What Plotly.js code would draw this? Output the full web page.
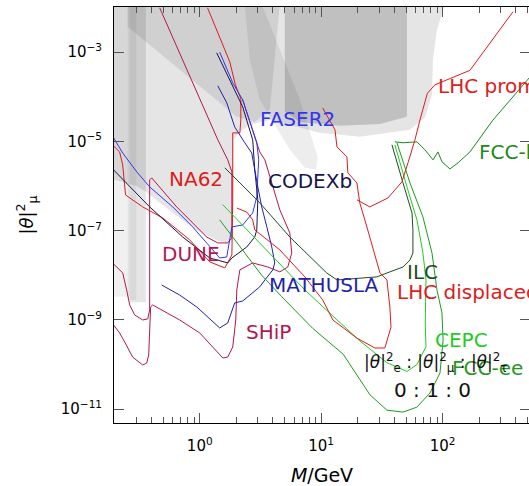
<!DOCTYPE html>
<html><head><meta charset="utf-8">
<script src="https://cdn.plot.ly/plotly-3.0.1.min.js"></script>
<style>html,body{margin:0;padding:0;overflow:hidden;background:#fff}</style>
</head><body><div id="plot"></div>
<script>
// ---------- excluded regions (grey) ----------
const greyLightM = [0.18,105,89.9,83.4,81.8,71.6,53.9,20.8,9.76,6.67,3.78,2.58,2.14,1.9,1.87,1.70,1.41,1.0,0.684,0.468,0.36,0.30,0.18];
const greyLightT = [0.012,0.012,3.16e-3,6.7e-4,1.1e-4,3.4e-5,1.81e-5,1.26e-5,1.55e-5,2.0e-5,3.0e-5,2.34e-5,1.63e-5,1.08e-5,6.85e-8,5.3e-8,5.9e-8,9.35e-8,1.93e-7,4.2e-7,7.4e-7,1.0e-6,1.5e-6];
const greyMidM = [0.255,0.255,2.02,2.84,3.78,4.57];
const greyMidT = [0.012,3.7e-3,3.54e-5,2.73e-5,5.1e-5,0.012];
const greyDarkM = [5.02,50.9,50.9,30.5,14.3,6.67,5.02];
const greyDarkT = [0.012,0.012,3.54e-5,2.46e-5,2.23e-5,2.73e-5,4.6e-5];
const greyDiagM = [2.35,3.24,6.67,9.4,9.04,7.34,5.52,4.15,3.12,2.58];
const greyDiagT = [0.012,0.012,8.5e-5,4.27e-6,2.3e-6,2.55e-6,6.45e-6,2.34e-5,8.5e-5,6.7e-4];
const bandAM = [0.18,0.265,0.265,0.18];
const bandAT = [0.012,0.012,3.3e-9,3.3e-9];
const bandBM = [0.265,0.36,0.36,0.265];
const bandBT = [0.012,0.012,2.5e-9,2.5e-9];
const bandCM = [0.255,0.30,0.30,0.255];
const bandCT = [0.012,0.012,2.8e-9,2.8e-9];

// ---------- sensitivity curves ----------
const na62M = [0.195,0.219,0.232,0.245,0.339,0.495,0.828,1.21,1.61,1.84,1.87,1.87,1.87,2.14,2.18,2.18,1.96,1.77,1.16];
const na62T = [7.9e-6,5.8e-6,2.97e-6,6.3e-7,3.4e-7,1.93e-7,6.2e-8,1.99e-8,1.46e-8,2.85e-8,4.9e-7,1.55e-5,1.55e-5,1.55e-5,3.0e-5,9.0e-5,1.9e-4,6.0e-4,9.8e-3];
const duneM = [0.195,0.232,0.25,0.265,0.291,0.339,0.373,0.387,0.387,0.402,0.646,1.14,1.41,1.70,1.84,1.84,1.70,1.41,0.468];
const duneT = [1.79e-8,1.13e-8,4.7e-9,2.16e-9,1.29e-9,9.95e-10,1.05e-9,1.67e-9,1.37e-6,1.52e-6,3.4e-7,7.2e-8,5.3e-8,5.3e-8,6.85e-8,2.07e-6,3.85e-6,1.08e-5,9.8e-3];
const shipM = [0.195,0.219,0.241,0.28,0.339,0.366,0.38,0.394,0.41,0.684,1.0,1.55,1.70,1.87,1.98,2.02,2.14,2.73,3.64,4.57,5.31,5.73,5.52,4.57,3.92,3.44,3.12,2.26];
const shipT = [7.7e-10,5.1e-10,3.2e-10,1.47e-10,9.75e-11,1.08e-10,1.63e-10,1.95e-9,2.16e-9,9.95e-10,5.1e-10,1.4e-10,1.47e-10,2.47e-10,9.95e-10,4.7e-9,1.32e-8,1.89e-8,1.53e-8,1.19e-8,1.53e-8,3.16e-8,8.9e-8,2.9e-7,1.17e-6,3.85e-6,5.8e-6,8.5e-5];
const faserM = [0.195,0.232,0.303,0.387,0.599,0.875,1.28,1.46,1.67,1.84,2.26,2.73,2.95,3.01,3.06,2.95,2.68,2.26,1.87,1.46];
const faserT = [1.2e-5,5.5e-6,2.07e-6,9.55e-7,3.4e-7,1.21e-7,3.7e-8,2.44e-8,2.57e-8,1.21e-7,1.34e-7,2.5e-7,5.7e-7,1.37e-6,3.85e-6,9.3e-6,2.11e-5,8.5e-5,2.05e-4,1.0e-3];
const codexM = [0.195,0.387,0.724,1.21,1.70,1.84,2.44,2.84,2.95,3.01,2.84,2.73,2.26,1.87,1.38];
const codexT = [2.3e-6,3.4e-7,7.2e-8,2.44e-8,1.89e-8,2.44e-8,4.3e-8,7.2e-8,1.04e-7,4.9e-7,2.3e-6,1.08e-5,5.9e-5,1.67e-4,9.6e-4];
const mathM = [0.486,0.684,0.945,1.46,1.70,1.94,2.26,3.12,3.44,4.0,4.15,3.92,3.57,3.24,3.01,2.84,2.68,2.35,1.94,1.67,1.41];
const mathT = [6.05e-9,3.6e-9,1.95e-9,6.6e-10,8.5e-10,2.4e-9,2.65e-9,5.5e-9,7.85e-9,1.32e-8,1.89e-8,4.3e-8,1.21e-7,3.4e-7,9.55e-7,2.3e-6,5.5e-6,9.3e-6,2.11e-5,7.3e-5,1.75e-4];
const ilcM = [1.61,3.12,5.52,11.1,13.5,28.8,36.8,47.2,53.9,57.0,57.0,56.0,47.2,38.3];
const ilcT = [2.55e-6,4.2e-7,7.2e-8,1.13e-8,7.85e-9,9.2e-9,1.19e-8,1.53e-8,2.2e-8,3.16e-8,1.04e-7,2.5e-7,1.17e-6,8.35e-6];
const cepcM = [1.55,7.34,11.5,20.8,34.8,50.9,61.5,73.0,72.0,73.0,68.9,61.5,50.9,40.5];
const cepcT = [3.8e-7,4.7e-9,1.5e-9,3.4e-10,1.1e-10,7.0e-11,1.0e-10,2.5e-10,8.5e-10,7.85e-9,3.16e-8,1.74e-7,9.55e-7,8.35e-6];
const fcceeM = [1.46,3.24,4.74,8.5,15.2,25.2,34.8,47.2,61.5,78.7,95.2,101,98.9,89.9,81.8,68.9,53.9,42.1];
const fcceeT = [1.74e-7,1.0e-8,3.3e-9,6.5e-10,1.7e-10,2.1e-11,9.5e-12,8.6e-12,1.11e-11,2.3e-11,6.45e-11,3.55e-10,1.43e-9,4.7e-9,3.16e-8,2.03e-7,1.17e-6,9.3e-6];
const fcchhM = [40.5,47.2,61.5,71.6,83.4,91.6,98.9,115,134,168,260,520,640];
const fcchhT = [9.75e-6,9.3e-6,9.75e-6,6.45e-6,3.85e-6,5.8e-6,3.47e-6,2.42e-6,3.3e-6,5.8e-6,3.0e-5,2.65e-4,5.2e-4];
const lhcpM = [19.7,25.2,35.5,46.3,51.9,59.2,65.1,75,86.6,168,380];
const lhcpT = [4.9e-7,3.4e-7,5.4e-7,1.24e-6,3.3e-6,1.08e-5,3.0e-5,1.2e-4,1.85e-4,3.9e-4,8.0e-3];
const lhcdM = [2.02,2.44,2.73,2.84,4.57,7.34,10.3,12.5,19.7,27.7,33.5,37.6,36.8,34.8,30.5,26.7,23.8,20.8,19.7,16.6,16.3,13.5,13.0,10.3];
const lhcdT = [3.2e-7,2.6e-7,1.74e-7,1.04e-7,3.7e-8,9.2e-9,2.8e-9,9.95e-10,3.9e-10,2.35e-10,2.35e-10,6.9e-10,1.95e-9,7.85e-9,1.13e-8,4.3e-8,1.21e-7,4.2e-7,1.17e-6,1.97e-6,4.5e-6,7.5e-6,1.81e-5,5.6e-5];

// ---------- axis ticks ----------
const xTickVals = [1,10,100];
const xTickText = ['10<sup>0</sup>','10<sup>1</sup>','10<sup>2</sup>'];
const xMinorVals = [0.3,0.4,0.5,0.6,0.7,0.8,0.9,2,3,4,5,6,7,8,9,20,30,40,50,60,70,80,90,200,300,400,500];
const yTickVals = [1e-11,1e-9,1e-7,1e-5,1e-3];
const yTickText = ['10<sup>\u221211</sup>','10<sup>\u22129</sup>','10<sup>\u22127</sup>','10<sup>\u22125</sup>','10<sup>\u22123</sup>'];

const RED='#dd1c1c', CRIM='#b3174f', BLUE='#3434f0', NAVY='#15154f', MBLUE='#1f1fb0',
      DGREEN='#1d4d1d', BGREEN='#22cc22', GREEN='#1f9a1f', HGREEN='#1b8a1b';

function fillTrace(x,y,a){return {x:x,y:y,type:'scatter',mode:'lines',fill:'toself',
  fillcolor:'rgba(0,0,0,'+a+')',line:{width:0,color:'rgba(0,0,0,0)'},hoverinfo:'skip',showlegend:false};}
function lineTrace(x,y,c){return {x:x,y:y,type:'scatter',mode:'lines',line:{color:c,width:1},hoverinfo:'skip',showlegend:false};}

const data = [
  fillTrace(greyLightM,greyLightT,0.10),
  fillTrace(greyMidM,greyMidT,0.09),
  fillTrace(greyDiagM,greyDiagT,0.07),
  fillTrace(greyDarkM,greyDarkT,0.16),
  fillTrace(bandAM,bandAT,0.06),
  fillTrace(bandBM,bandBT,0.10),
  fillTrace(bandCM,bandCT,0.05),
  lineTrace(duneM,duneT,CRIM),
  lineTrace(shipM,shipT,CRIM),
  lineTrace(na62M,na62T,RED),
  lineTrace(faserM,faserT,BLUE),
  lineTrace(codexM,codexT,NAVY),
  lineTrace(mathM,mathT,MBLUE),
  lineTrace(ilcM,ilcT,DGREEN),
  lineTrace(fcceeM,fcceeT,GREEN),
  lineTrace(cepcM,cepcT,BGREEN),
  lineTrace(fcchhM,fcchhT,HGREEN),
  lineTrace(lhcpM,lhcpT,RED),
  lineTrace(lhcdM,lhcdT,RED)
];

const FONT = 'DejaVu Sans, sans-serif';
function px2x(p){return (p-114)/416;}
function px2y(p){return (423-p)/416;}
function lab(text,px,py,color,anchor,size){return {text:text,xref:'paper',yref:'paper',x:px2x(px),y:px2y(py),
  xanchor:anchor||'left',yanchor:'middle',showarrow:false,font:{family:FONT,size:size||20,color:color}};}

const annotations = [
  lab('LHC prompt',436,86,RED),
  lab('FCC-hh',477,152,HGREEN),
  lab('FASER2',258,119,BLUE),
  lab('NA62',167,179,RED),
  lab('CODEXb',266,181,NAVY),
  lab('DUNE',160,254,CRIM),
  lab('ILC',405,272,DGREEN),
  lab('MATHUSLA',267,285,MBLUE),
  lab('LHC displaced',395,292,RED),
  lab('SHiP',244,332,CRIM),
  lab('CEPC',433,340,BGREEN),
  lab('FCC-ee',450,368,GREEN),
  lab('|<i>θ</i>|<sup>2</sup><sub>e</sub> : |<i>θ</i>|<sup>2</sup><sub>μ</sub> : |<i>θ</i>|<sup>2</sup><sub>τ</sub>',362,362,'#111','left',17),
  lab('0 : 1 : 0',432,390,'#111','center')
];

const layout = {
  width:530, height:486,
  margin:{l:114,r:0,t:7,b:63},
  paper_bgcolor:'#fff', plot_bgcolor:'#fff',
  font:{family:FONT,size:15,color:'#000'},
  showlegend:false,
  xaxis:{type:'log',range:[-0.706,2.72],showgrid:false,zeroline:false,showline:true,linecolor:'#000',linewidth:1,
    mirror:'ticks',ticks:'inside',ticklen:10,tickcolor:'#555',tickwidth:1,tickmode:'array',tickvals:xTickVals,ticktext:xTickText,
    ticklabelstandoff:9,tickfont:{size:15,family:FONT},
    minor:{ticks:'inside',ticklen:6,tickcolor:'#555',tickvals:xMinorVals,showgrid:false},
    title:{text:'<i>M</i>/GeV',font:{size:19,family:FONT},standoff:14}},
  yaxis:{type:'log',range:[-11.31,-1.99],showgrid:false,zeroline:false,showline:true,linecolor:'#000',linewidth:1,
    mirror:'ticks',ticks:'inside',ticklen:10,tickcolor:'#555',tickwidth:1,tickmode:'array',tickvals:yTickVals,ticktext:yTickText,
    ticklabelstandoff:8,tickfont:{size:15,family:FONT},
    title:{text:'|<i>θ</i>|<sup>2</sup><sub>μ</sub>',font:{size:18,family:FONT},standoff:22}},
  annotations:annotations
};
Plotly.newPlot('plot',data,layout,{staticPlot:true,displayModeBar:false});
</script></body></html>
